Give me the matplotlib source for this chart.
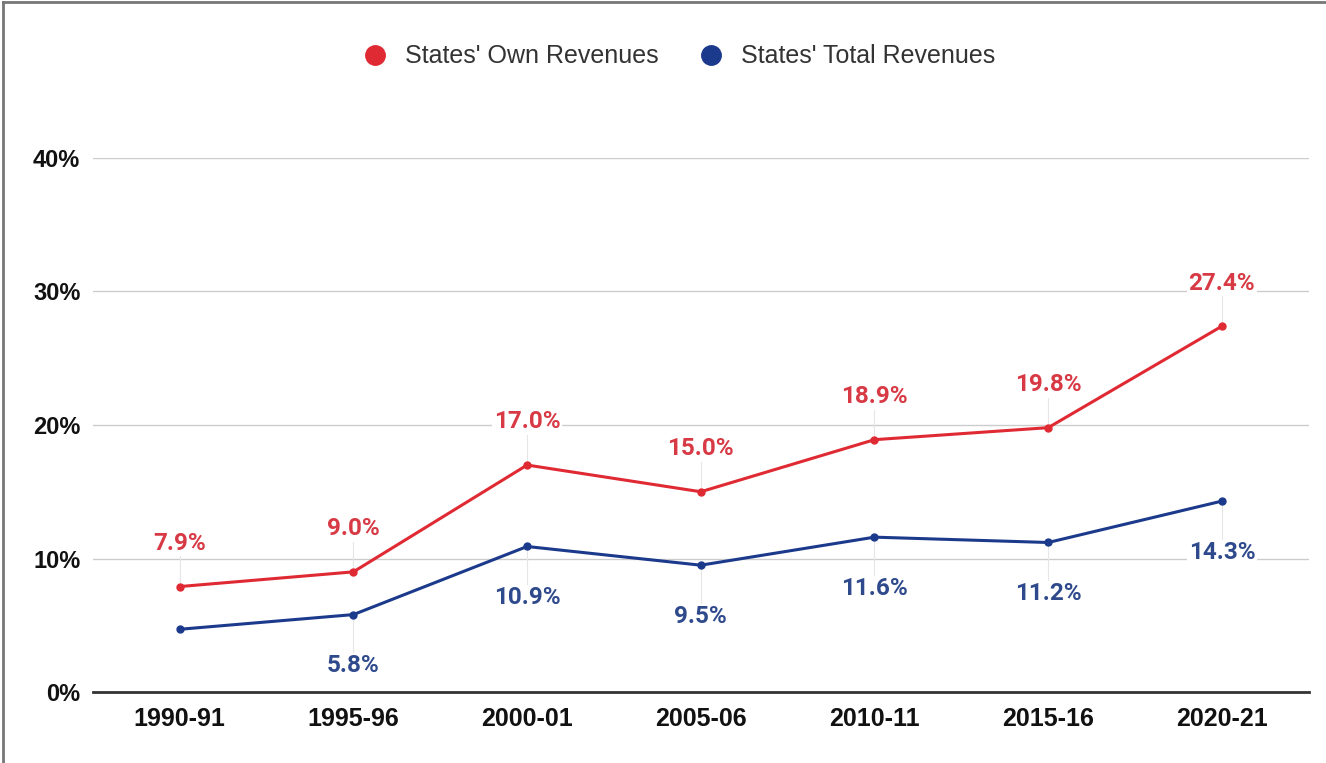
import matplotlib.pyplot as plt
from matplotlib.lines import Line2D

years = ['1990-91', '1995-96', '2000-01', '2005-06', '2010-11', '2015-16', '2020-21']
own_rev = [7.9, 9.0, 17.0, 15.0, 18.9, 19.8, 27.4]
total_rev = [4.7, 5.8, 10.9, 9.5, 11.6, 11.2, 14.3]
# first total point has no label in the original
total_labels = ['', '5.8%', '10.9%', '9.5%', '11.6%', '11.2%', '14.3%']
own_labels = ['%.1f%%' % v for v in own_rev]
yticks = [0, 10, 20, 30, 40]

red = '#e02a33'
blue = '#1c3a8c'
red_txt = '#d83a45'
blue_txt = '#2f4a8c'

fig = plt.figure(figsize=(13.26, 7.63), dpi=100)
ax = fig.add_axes([0.070, 0.093, 0.917, 0.700])

x = list(range(len(years)))

# faint leader lines from label to point
for i in x:
    ax.plot([i, i], [own_rev[i], own_rev[i] + 2.6], color='#e6e6e6', lw=0.8, zorder=1)
    if total_labels[i]:
        ax.plot([i, i], [total_rev[i], total_rev[i] - 3.2], color='#e6e6e6', lw=0.8, zorder=1)

ax.plot(x, own_rev, color=red, lw=2.2, marker='o', ms=5, zorder=3)
ax.plot(x, total_rev, color=blue, lw=2.2, marker='o', ms=5, zorder=3)

for i in x:
    ax.annotate(own_labels[i], (i, own_rev[i]), xytext=(0, 31), textcoords='offset points',
                ha='center', va='center', color=red_txt, fontsize=17.5, fontweight='bold',
                family='Roboto', bbox=dict(fc='white', ec='none', pad=1), zorder=4)
    if total_labels[i]:
        ax.annotate(total_labels[i], (i, total_rev[i]), xytext=(0, -37), textcoords='offset points',
                    ha='center', va='center', color=blue_txt, fontsize=17.5, fontweight='bold',
                    family='Roboto', bbox=dict(fc='white', ec='none', pad=1), zorder=4)

ax.set_xlim(-0.5, len(years) - 0.5)
ax.set_ylim(0, 40)
ax.set_yticks(yticks)
ax.set_yticklabels(['%d%%' % t for t in yticks])
ax.set_xticks(x)
ax.set_xticklabels(years)
for lab in ax.get_xticklabels():
    lab.set_fontsize(18)
for lab in ax.get_yticklabels():
    lab.set_fontsize(17)
for lab in ax.get_xticklabels() + ax.get_yticklabels():
    lab.set_family('Liberation Sans')
    lab.set_fontweight('bold')
    lab.set_color('#111111')
ax.tick_params(axis='both', length=0)
ax.tick_params(axis='y', pad=9)
ax.tick_params(axis='x', pad=11)
ax.grid(axis='y', color='#cccccc', lw=1)
ax.set_axisbelow(True)
for s in ['top', 'right', 'left']:
    ax.spines[s].set_visible(False)
ax.spines['bottom'].set_color('#333333')
ax.spines['bottom'].set_linewidth(2)
ax.spines['bottom'].set_zorder(5)

handles = [Line2D([], [], ls='none', marker='o', ms=14, color=red),
           Line2D([], [], ls='none', marker='o', ms=14, color=blue)]
fig.legend(handles, ["States' Own Revenues", "States' Total Revenues"], loc='center',
           bbox_to_anchor=(0.507, 0.926), ncol=2, frameon=False,
           prop={'family': 'Liberation Sans', 'size': 18}, labelcolor='#333333',
           handletextpad=0.2, columnspacing=1.1)

# outer frame on the top and left edges
fig.add_artist(Line2D([0.002, 0.002], [0, 0.997], color='#777777', lw=2, transform=fig.transFigure))
fig.add_artist(Line2D([0.002, 1], [0.997, 0.997], color='#777777', lw=2, transform=fig.transFigure))

fig.savefig('out.png', dpi=100, facecolor='white')
